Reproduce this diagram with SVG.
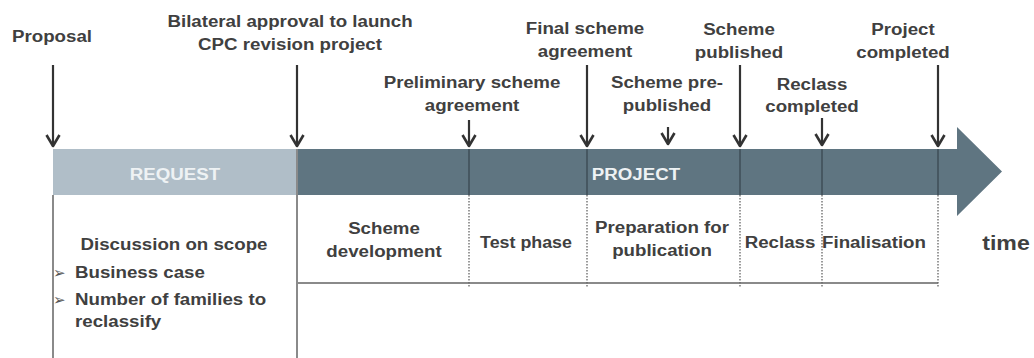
<svg xmlns="http://www.w3.org/2000/svg" width="1034" height="358" viewBox="0 0 1034 358">
  <style>
    .lbl { font-family: "Liberation Sans", Arial, sans-serif; font-weight: bold; font-size: 17px; fill: #404040; }
    .mid { text-anchor: middle; }
    .bar-lbl { font-family: "Liberation Sans", Arial, sans-serif; font-weight: bold; font-size: 17px; fill: #eef2f4; text-anchor: middle; }
    .ms { stroke: #333; stroke-width: 2.2; fill: none; }
    .divider { stroke: #3e4e57; stroke-width: 1.5; }
    .dotted { stroke: #666; stroke-width: 1.3; stroke-dasharray: 1.5 1.5; }
    .frame { stroke: #8a8a8a; stroke-width: 2; fill: none; }
    .bullet { font-family: "DejaVu Sans", sans-serif; font-size: 15px; fill: #555; }
  </style>
  <defs>
    <marker id="chev" viewBox="-14 -8 16 16" refX="0" refY="0" markerWidth="16" markerHeight="16" markerUnits="userSpaceOnUse" orient="auto">
      <path d="M-11,-6.5 L0,0 L-11,6.5" fill="none" stroke="#333" stroke-width="2.6" stroke-linejoin="round"/>
    </marker>
  </defs>

  <rect width="1034" height="358" fill="#ffffff"/>

  <!-- timeline bar -->
  <g id="bar">
    <rect x="53" y="149" width="244" height="46" fill="#b0bec8"/>
    <path d="M297,149 H957 V127 L1002,171.5 L957,216 V195 H297 Z" fill="#5f7581"/>
    <text class="bar-lbl" transform="translate(175 180) scale(1.1 1)">REQUEST</text>
    <text class="bar-lbl" transform="translate(636 180) scale(1.1 1)">PROJECT</text>
  </g>

  <!-- phase table -->
  <g id="table">
    <line class="frame" x1="53" y1="195" x2="53" y2="358"/>
    <line class="frame" x1="297" y1="149" x2="297" y2="358"/>
    <line class="frame" x1="297" y1="283" x2="938" y2="283"/>
    <g class="divider">
      <line x1="469" y1="149" x2="469" y2="195"/>
      <line x1="587" y1="149" x2="587" y2="195"/>
      <line x1="740" y1="149" x2="740" y2="195"/>
      <line x1="822" y1="149" x2="822" y2="195"/>
      <line x1="938" y1="149" x2="938" y2="195"/>
    </g>
    <g class="dotted">
      <line x1="469" y1="195" x2="469" y2="287"/>
      <line x1="587" y1="195" x2="587" y2="287"/>
      <line x1="740" y1="195" x2="740" y2="287"/>
      <line x1="822" y1="195" x2="822" y2="287"/>
      <line x1="938" y1="195" x2="938" y2="287"/>
    </g>
  </g>

  <!-- milestone connectors -->
  <g id="connectors">
    <line class="ms" x1="53" y1="65" x2="53" y2="146" marker-end="url(#chev)"/>
    <line class="ms" x1="297" y1="65" x2="297" y2="146" marker-end="url(#chev)"/>
    <line class="ms" x1="469" y1="120" x2="469" y2="146" marker-end="url(#chev)"/>
    <line class="ms" x1="587" y1="65" x2="587" y2="146" marker-end="url(#chev)"/>
    <line class="ms" x1="668" y1="127" x2="668" y2="144" marker-end="url(#chev)"/>
    <line class="ms" x1="740" y1="65" x2="740" y2="146" marker-end="url(#chev)"/>
    <line class="ms" x1="822" y1="118" x2="822" y2="145" marker-end="url(#chev)"/>
    <line class="ms" x1="938" y1="65" x2="938" y2="146" marker-end="url(#chev)"/>
  </g>

  <!-- milestones -->
  <g id="ms-proposal">
    <text class="lbl mid" transform="translate(52 42) scale(1.1 1)">Proposal</text>
  </g>
  <g id="ms-approval">
    <text class="lbl mid" transform="translate(290 27) scale(1.1 1)"><tspan x="0" y="0">Bilateral approval to launch</tspan><tspan x="0" y="23">CPC revision project</tspan></text>
  </g>
  <g id="ms-preliminary">
    <text class="lbl mid" transform="translate(472 88) scale(1.1 1)"><tspan x="0" y="0">Preliminary scheme</tspan><tspan x="0" y="23">agreement</tspan></text>
  </g>
  <g id="ms-final">
    <text class="lbl mid" transform="translate(585 34) scale(1.1 1)"><tspan x="0" y="0">Final scheme</tspan><tspan x="0" y="23">agreement</tspan></text>
  </g>
  <g id="ms-prepublished">
    <text class="lbl mid" transform="translate(667 88) scale(1.1 1)"><tspan x="0" y="0">Scheme pre-</tspan><tspan x="0" y="23">published</tspan></text>
  </g>
  <g id="ms-published">
    <text class="lbl mid" transform="translate(739 35) scale(1.1 1)"><tspan x="0" y="0">Scheme</tspan><tspan x="0" y="23">published</tspan></text>
  </g>
  <g id="ms-reclass">
    <text class="lbl mid" transform="translate(812 90) scale(1.1 1)"><tspan x="0" y="0">Reclass</tspan><tspan x="0" y="22">completed</tspan></text>
  </g>
  <g id="ms-completed">
    <text class="lbl mid" transform="translate(903 35) scale(1.1 1)"><tspan x="0" y="0">Project</tspan><tspan x="0" y="23">completed</tspan></text>
  </g>

  <!-- phases -->
  <g id="ph-request">
    <text class="lbl mid" transform="translate(174 250) scale(1.1 1)">Discussion on scope</text>
    <text class="bullet" x="53" y="278">➢</text>
    <text class="lbl" transform="translate(75 278) scale(1.1 1)">Business case</text>
    <text class="bullet" x="53" y="305">➢</text>
    <text class="lbl" transform="translate(75 305) scale(1.1 1)"><tspan x="0" y="0">Number of families to</tspan><tspan x="0" y="22">reclassify</tspan></text>
  </g>
  <g id="ph-development">
    <text class="lbl mid" transform="translate(384 234) scale(1.1 1)"><tspan x="0" y="0">Scheme</tspan><tspan x="0" y="23">development</tspan></text>
  </g>
  <g id="ph-test">
    <text class="lbl mid" transform="translate(526 248) scale(1.05 1)">Test phase</text>
  </g>
  <g id="ph-publication">
    <text class="lbl mid" transform="translate(662 233) scale(1.1 1)"><tspan x="0" y="0">Preparation for</tspan><tspan x="0" y="23">publication</tspan></text>
  </g>
  <g id="ph-reclass">
    <text class="lbl mid" transform="translate(780 248) scale(1.1 1)">Reclass</text>
  </g>
  <g id="ph-finalisation">
    <text class="lbl mid" transform="translate(874 248) scale(1.1 1)">Finalisation</text>
  </g>
  <g id="axis-time">
    <text class="lbl mid" style="font-size:21px" transform="translate(1006 250) scale(1.1 1)">time</text>
  </g>
</svg>
